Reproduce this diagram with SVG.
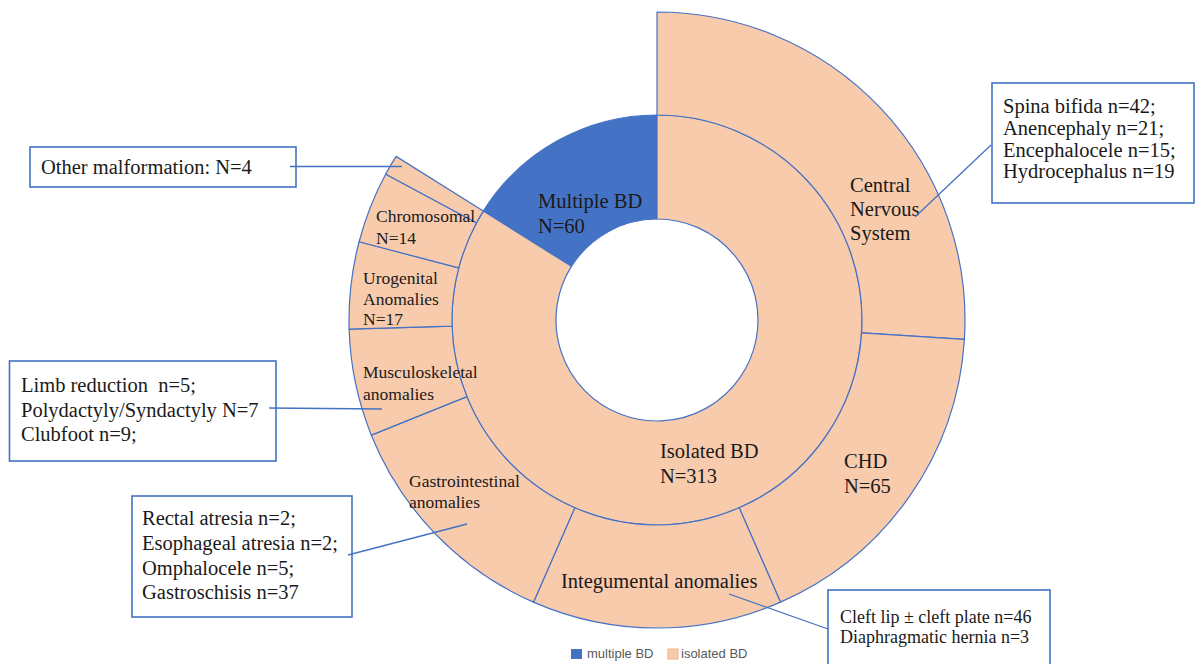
<svg xmlns="http://www.w3.org/2000/svg" width="1196" height="664" viewBox="0 0 1196 664">
<style>
.seg{fill:#F8CBAD;stroke:#4472C4;stroke-width:1.2;stroke-linejoin:round}
.mul{fill:#4472C4;stroke:#4472C4;stroke-width:1.2}
.box{fill:#FFFFFF;stroke:#4472C4;stroke-width:1.6}
.lead{stroke:#4472C4;stroke-width:1.3;fill:none}
.t{font-family:"Liberation Serif","Times New Roman",serif;fill:#1a1a1a}
.b{font-size:20.5px}
.s{font-size:17.5px}
.lg{font-family:"Liberation Sans",Arial,sans-serif;font-size:13px;fill:#595959}
</style>
<rect width="1196" height="664" fill="#FFFFFF"/>
<g id="inner-ring">
<g id="multiple-bd">
<path class="mul" d="M657 115 A205 205 0 0 0 483.32 211.09 L571.43 266.34 A101 101 0 0 1 657 219 Z"/>
<text class="t b" x="538" y="208">Multiple BD</text>
<text class="t b" x="538" y="233">N=60</text>
</g>
<g id="isolated-bd">
<path class="seg" d="M657 115 A205 205 0 1 1 483.32 211.09 L571.43 266.34 A101 101 0 1 0 657 219 Z"/>
<text class="t b" x="660" y="457.7">Isolated BD</text>
<text class="t b" x="660" y="482.7">N=313</text>
</g>
</g>
<g id="outer-ring">
<g id="cns">
<path class="seg" d="M657 115 L657 12 A308 308 0 0 1 964.39 339.44 L861.59 332.94 A205 205 0 0 0 657 115 Z"/>
<text class="t b" x="850" y="191.7">Central</text>
<text class="t b" x="850" y="216">Nervous</text>
<text class="t b" x="850" y="240">System</text>
</g>
<g id="chd">
<path class="seg" d="M861.59 332.94 L964.39 339.44 A308 308 0 0 1 780.52 602.15 L739.21 507.79 A205 205 0 0 0 861.59 332.94 Z"/>
<text class="t b" x="844" y="468">CHD</text>
<text class="t b" x="844" y="493">N=65</text>
</g>
<g id="integumental">
<path class="seg" d="M739.21 507.79 L780.52 602.15 A308 308 0 0 1 533.48 602.15 L574.79 507.79 A205 205 0 0 0 739.21 507.79 Z"/>
<text class="t b" x="561" y="588">Integumental anomalies</text>
</g>
<g id="gastrointestinal">
<path class="seg" d="M574.79 507.79 L533.48 602.15 A308 308 0 0 1 371.34 435.16 L466.87 396.65 A205 205 0 0 0 574.79 507.79 Z"/>
<text class="t s" x="409" y="486.7">Gastrointestinal</text>
<text class="t s" x="409" y="508">anomalies</text>
</g>
<g id="musculoskeletal">
<path class="seg" d="M466.87 396.65 L371.34 435.16 A308 308 0 0 1 349.13 329.08 L452.09 326.04 A205 205 0 0 0 466.87 396.65 Z"/>
<text class="t s" x="363" y="378">Musculoskeletal</text>
<text class="t s" x="363" y="400">anomalies</text>
</g>
<g id="urogenital">
<path class="seg" d="M452.09 326.04 L349.13 329.08 A308 308 0 0 1 359.11 241.74 L458.73 267.91 A205 205 0 0 0 452.09 326.04 Z"/>
<text class="t s" x="363" y="284">Urogenital</text>
<text class="t s" x="363" y="305">Anomalies</text>
<text class="t s" x="363" y="325">N=17</text>
</g>
<g id="other">
<path class="seg" d="M476.38 223.03 L385.63 174.31 A308 308 0 0 1 396.06 156.37 L483.32 211.09 A205 205 0 0 0 476.38 223.03 Z"/>
</g>
<g id="chromosomal">
<path class="seg" d="M458.73 267.91 L359.11 241.74 A308 308 0 0 1 385.63 174.31 L476.38 223.03 A205 205 0 0 0 458.73 267.91 Z"/>
<text class="t s" x="376" y="221.7">Chromosomal</text>
<text class="t s" x="376" y="244">N=14</text>
</g>
</g>
<g id="box-other">
<rect class="box" x="30" y="147" width="266" height="40"/>
<text class="t b" x="41" y="174">Other malformation: N=4</text>
</g>
<g id="box-musculoskeletal">
<rect class="box" x="9.5" y="361" width="266.5" height="100"/>
<text class="t b" x="21" y="391.7" xml:space="preserve">Limb reduction  n=5;</text>
<text class="t b" x="21" y="416.7">Polydactyly/Syndactyly N=7</text>
<text class="t b" x="21" y="441">Clubfoot n=9;</text>
</g>
<g id="box-cns">
<rect class="box" x="992" y="83" width="202" height="120"/>
<text class="t b" x="1003" y="112.7">Spina bifida n=42;</text>
<text class="t b" x="1003" y="135">Anencephaly n=21;</text>
<text class="t b" x="1003" y="156.5">Encephalocele n=15;</text>
<text class="t b" x="1003" y="178">Hydrocephalus n=19</text>
</g>
<g id="box-gastrointestinal">
<rect class="box" x="132" y="496" width="220" height="121"/>
<text class="t b" x="142" y="525">Rectal atresia n=2;</text>
<text class="t b" x="142" y="550">Esophageal atresia n=2;</text>
<text class="t b" x="142" y="575">Omphalocele n=5;</text>
<text class="t b" x="142" y="599">Gastroschisis n=37</text>
</g>
<g id="box-integumental">
<rect class="box" x="828" y="590" width="222" height="80"/>
<text class="t" style="font-size:18px" x="840" y="623">Cleft lip ± cleft plate n=46</text>
<text class="t" style="font-size:18px" x="840" y="643">Diaphragmatic hernia n=3</text>
</g>
<g id="connectors">
<line class="lead" x1="290" y1="166.5" x2="402" y2="166.5"/>
<line class="lead" x1="269" y1="408" x2="382" y2="409"/>
<line class="lead" x1="991" y1="145" x2="915" y2="217"/>
<line class="lead" x1="348" y1="555" x2="467" y2="524"/>
<line class="lead" x1="729" y1="594" x2="828" y2="629"/>
</g>
<g id="legend">
<rect x="571" y="649" width="11" height="10" fill="#4472C4"/>
<text class="lg" x="587" y="658">multiple BD</text>
<rect x="668" y="649" width="10" height="10" fill="#F8CBAD" stroke="#F4B183" stroke-width="1"/>
<text class="lg" x="681" y="658">isolated BD</text>
</g>
</svg>
